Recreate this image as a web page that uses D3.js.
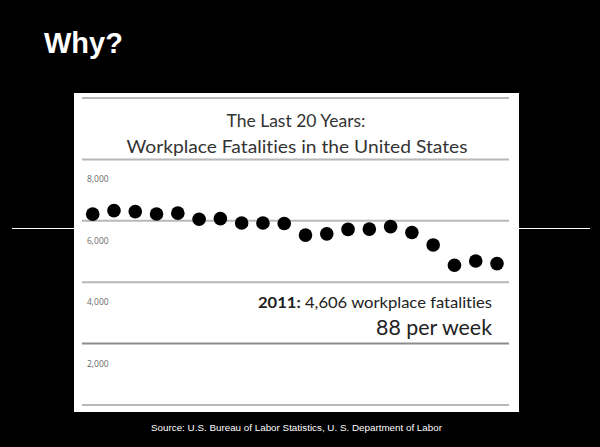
<!DOCTYPE html>
<html>
<head>
<meta charset="utf-8">
<script src="https://cdn.jsdelivr.net/npm/d3@7"></script>
<style>
  html, body { margin: 0; padding: 0; background: #000; }
  svg { display: block; }
  text { font-variant-ligatures: none; }
</style>
</head>
<body>
<div id="chart"></div>
<script>
// data (1992 - 2011)
var years = [1992, 1993, 1994, 1995, 1996, 1997, 1998, 1999, 2000, 2001,
             2002, 2003, 2004, 2005, 2006, 2007, 2008, 2009, 2010, 2011];
var fatalities = [6217, 6331, 6300, 6220, 6250, 6050, 6070, 5930, 5930, 5910,
                  5534, 5575, 5720, 5730, 5810, 5620, 5214, 4551, 4690, 4606];
var gridValues = [0, 2000, 4000, 6000, 8000, 10000];
var tickLabels = ["2,000", "4,000", "6,000", "8,000"];
var tickValues = [2000, 4000, 6000, 8000];

var W = 600, H = 447;

var svg = d3.select("#chart").append("svg")
    .attr("width", W)
    .attr("height", H);

svg.append("rect").attr("width", W).attr("height", H).attr("fill", "#000");

// slide title
svg.append("text")
    .attr("x", 44).attr("y", 53)
    .attr("fill", "#fff")
    .attr("font-family", "Liberation Sans, Arial, sans-serif")
    .attr("font-weight", "bold")
    .attr("font-size", 29)
    .text("Why?");

// thin white rule behind the picture
svg.append("line")
    .attr("x1", 12).attr("x2", 590)
    .attr("y1", 228.5).attr("y2", 228.5)
    .attr("stroke", "#fff").attr("stroke-width", 1);

// white panel (the pasted chart)
svg.append("rect")
    .attr("x", 74).attr("y", 93)
    .attr("width", 445).attr("height", 319)
    .attr("fill", "#fff");

var y = d3.scaleLinear().domain([0, 10000]).range([405, 98]);
var x = d3.scalePoint().domain(years).range([92.7, 497]);

// gridlines
svg.selectAll(".grid")
    .data(gridValues)
    .enter().append("line")
    .attr("class", "grid")
    .attr("x1", 82).attr("x2", 509)
    .attr("y1", function(d) { return y(d); })
    .attr("y2", function(d) { return y(d); })
    .attr("stroke", function(d) { return d === 2000 ? "#8c8c8c" : "#b8b8b8"; })
    .attr("stroke-width", 2);

// chart title between top two gridlines
svg.append("text")
    .attr("x", 296).attr("y", 127)
    .attr("text-anchor", "middle")
    .attr("fill", "#333")
    .attr("font-family", "Lato, Open Sans, sans-serif")
    .attr("font-size", 17.5)
    .text("The Last 20 Years:");
svg.append("text")
    .attr("x", 297).attr("y", 153)
    .attr("text-anchor", "middle")
    .attr("fill", "#333")
    .attr("font-family", "Lato, Open Sans, sans-serif")
    .attr("font-size", 17.5)
    .attr("textLength", 341).attr("lengthAdjust", "spacingAndGlyphs")
    .text("Workplace Fatalities in the United States");

// axis labels sit below their gridlines in the original
svg.selectAll(".ylab")
    .data(tickValues)
    .enter().append("text")
    .attr("class", "ylab")
    .attr("x", 87)
    .attr("y", function(d) { return y(d) + 23; })
    .attr("fill", "#6a6a6a")
    .attr("font-family", "Open Sans, sans-serif")
    .attr("font-size", 8.5)
    .text(function(d, i) { return tickLabels[i]; });

// dots
svg.selectAll(".dot")
    .data(fatalities)
    .enter().append("circle")
    .attr("class", "dot")
    .attr("cx", function(d, i) { return x(years[i]); })
    .attr("cy", function(d) { return y(d); })
    .attr("r", 6.8)
    .attr("fill", "#000");

// annotation
var ann = svg.append("text")
    .attr("x", 492).attr("y", 308)
    .attr("text-anchor", "end")
    .attr("fill", "#222")
    .attr("font-family", "Lato, Open Sans, sans-serif")
    .attr("font-size", 15)
    .attr("textLength", 234).attr("lengthAdjust", "spacingAndGlyphs");
ann.append("tspan").attr("font-weight", "bold").text("2011:");
ann.append("tspan").text(" 4,606 workplace fatalities");

svg.append("text")
    .attr("x", 492).attr("y", 335)
    .attr("text-anchor", "end")
    .attr("fill", "#222")
    .attr("font-family", "Lato, Open Sans, sans-serif")
    .attr("font-size", 22)
    .attr("textLength", 116).attr("lengthAdjust", "spacingAndGlyphs")
    .text("88 per week");

// source line
svg.append("text")
    .attr("x", 296.5).attr("y", 431)
    .attr("text-anchor", "middle")
    .attr("fill", "#fff")
    .attr("font-family", "Liberation Sans, Arial, sans-serif")
    .attr("font-size", 8.5)
    .attr("textLength", 291).attr("lengthAdjust", "spacingAndGlyphs")
    .text("Source: U.S. Bureau of Labor Statistics, U. S. Department of Labor");
</script>
</body>
</html>
